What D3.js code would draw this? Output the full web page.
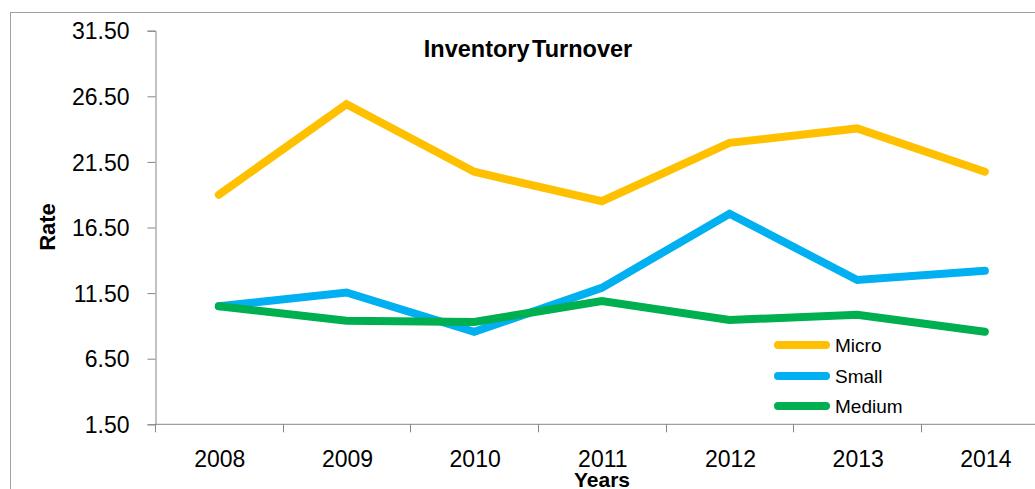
<!DOCTYPE html>
<html>
<head>
<meta charset="utf-8">
<script src="https://cdn.jsdelivr.net/npm/d3@7/dist/d3.min.js"></script>
<style>
  html, body { margin: 0; padding: 0; background: #fff; }
  svg { display: block; font-family: "Liberation Sans", Arial, sans-serif; }
</style>
</head>
<body>
<svg id="chart" width="1035" height="489"></svg>
<script>
// Inventory turnover rate by firm size, 2008-2014
const years = ["2008", "2009", "2010", "2011", "2012", "2013", "2014"];
const micro  = [19.0, 25.9, 20.75, 18.5, 22.95, 24.05, 20.75];
const small  = [10.5, 11.55, 8.55, 11.9, 17.55, 12.5, 13.2];
const medium = [10.5, 9.4, 9.3, 10.9, 9.45, 9.85, 8.55];
const seriesNames = ["Micro", "Small", "Medium"];
const seriesColors = ["#FFC000", "#00B0F0", "#00B050"];
const yTicks = [1.5, 6.5, 11.5, 16.5, 21.5, 26.5, 31.5];

const series = [micro, small, medium].map((vals, i) => ({
  name: seriesNames[i],
  color: seriesColors[i],
  values: vals
}));

const svg = d3.select("#chart");

// outer chart-area frame
svg.append("rect")
  .attr("x", 10.5).attr("y", 12.5)
  .attr("width", 1040).attr("height", 500)
  .attr("fill", "none").attr("stroke", "#A0A0A0").attr("stroke-width", 1);

const x = d3.scaleBand().domain(years).range([155, 1048.7]).padding(0);
const y = d3.scaleLinear().domain([1.5, 31.5]).range([424.3, 30.7]);

const axisColor = "#868686";

// y axis
const yAxis = svg.append("g")
  .attr("transform", "translate(155.5,0)")
  .call(d3.axisLeft(y).tickValues(yTicks).tickFormat(d3.format(".2f")).tickSize(8).tickPadding(18));
yAxis.select(".domain").attr("stroke", axisColor);
yAxis.selectAll(".tick line").attr("stroke", axisColor);
yAxis.selectAll(".tick text")
  .attr("fill", "#000").attr("font-size", 23)
  .attr("font-family", "Liberation Sans, Arial, sans-serif")
  .attr("dy", "0.36em");

// x axis with ticks on category boundaries
const xAxisG = svg.append("g").attr("transform", `translate(0,${y(1.5)})`);
xAxisG.append("line")
  .attr("x1", 155).attr("x2", 1048.7)
  .attr("stroke", axisColor);
const boundaries = years.map(d => x(d)).concat([x(years[years.length - 1]) + x.bandwidth()]);
xAxisG.selectAll("line.tk").data(boundaries).join("line")
  .attr("class", "tk")
  .attr("x1", d => Math.round(d) + 0.5).attr("x2", d => Math.round(d) + 0.5)
  .attr("y1", 0).attr("y2", 8)
  .attr("stroke", axisColor);
xAxisG.selectAll("text").data(years).join("text")
  .attr("x", d => x(d) + x.bandwidth() / 2 + 1)
  .attr("y", 42.5)
  .attr("text-anchor", "middle")
  .attr("font-size", 23)
  .attr("fill", "#000")
  .text(d => d);

// series lines
const line = d3.line()
  .x((d, i) => x(years[i]) + x.bandwidth() / 2)
  .y(d => y(d));

svg.append("g").selectAll("path").data(series).join("path")
  .attr("d", d => line(d.values))
  .attr("fill", "none")
  .attr("stroke", d => d.color)
  .attr("stroke-width", 8)
  .attr("stroke-linecap", "round")
  .attr("stroke-linejoin", "miter");

// legend
const legend = svg.append("g");
const legendY = [345, 376, 406];
series.forEach((s, i) => {
  legend.append("line")
    .attr("x1", 778).attr("x2", 826)
    .attr("y1", legendY[i]).attr("y2", legendY[i])
    .attr("stroke", s.color).attr("stroke-width", 8)
    .attr("stroke-linecap", "round");
  legend.append("text")
    .attr("x", 835).attr("y", legendY[i] + 7)
    .attr("font-size", 19).attr("fill", "#000")
    .text(s.name);
});

// title
svg.append("text")
  .attr("x", 528).attr("y", 57)
  .attr("text-anchor", "middle")
  .attr("font-size", 23.5).attr("font-weight", "bold")
  .attr("word-spacing", "-4")
  .text("Inventory Turnover");

// axis titles
svg.append("text")
  .attr("transform", "translate(55,227) rotate(-90)")
  .attr("text-anchor", "middle")
  .attr("font-size", 22).attr("font-weight", "bold")
  .text("Rate");

svg.append("text")
  .attr("x", 602).attr("y", 487)
  .attr("text-anchor", "middle")
  .attr("font-size", 21).attr("font-weight", "bold")
  .text("Years");
</script>
</body>
</html>
